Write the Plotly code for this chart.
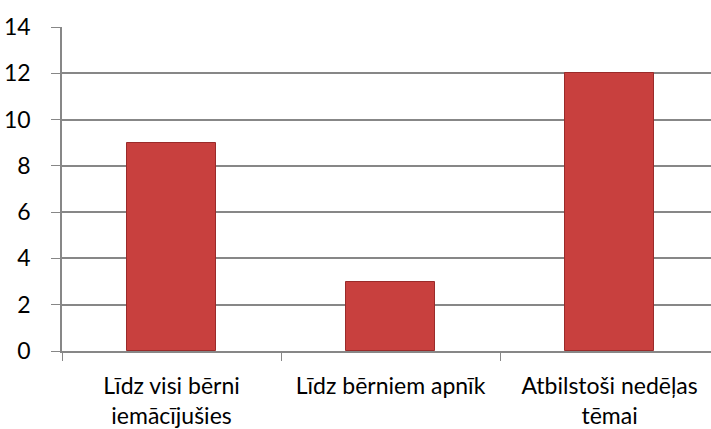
import plotly.graph_objects as go

categories = ["Līdz visi bērni<br>iemācījušies", "Līdz bērniem apnīk", "Atbilstoši nedēļas<br>tēmai"]
values = [9, 3, 12]
y_ticks = [0, 2, 4, 6, 8, 10, 12, 14]

fig = go.Figure()
fig.add_trace(go.Bar(
    x=categories, y=values, width=0.41,
    marker=dict(color="#C8403E", line=dict(color="#9A2B2A", width=1)),
))

grid = "#878787"
fig.update_layout(
    width=711, height=429,
    margin=dict(l=62, r=0, t=27, b=78),
    paper_bgcolor="white", plot_bgcolor="white",
    font=dict(family="Lato, Open Sans, sans-serif", size=23, color="black"),
    showlegend=False,
    bargap=0,
    xaxis=dict(range=[-0.5, 2.463], showline=True, linecolor=grid, linewidth=1.5,
               ticks="outside", tickson="boundaries", ticklen=8, tickcolor=grid,
               showgrid=False, tickangle=0, fixedrange=True, ticklabelstandoff=14),
    yaxis=dict(range=[0, 14], tickvals=y_ticks, showline=True, linecolor=grid, linewidth=1.5,
               ticks="outside", ticklen=9, tickcolor=grid, gridcolor=grid, gridwidth=1.5,
               zeroline=False, ticklabelstandoff=16),
)
fig.write_html("out.html", config={"displayModeBar": False},
               post_script="document.body.style.margin='0';")
